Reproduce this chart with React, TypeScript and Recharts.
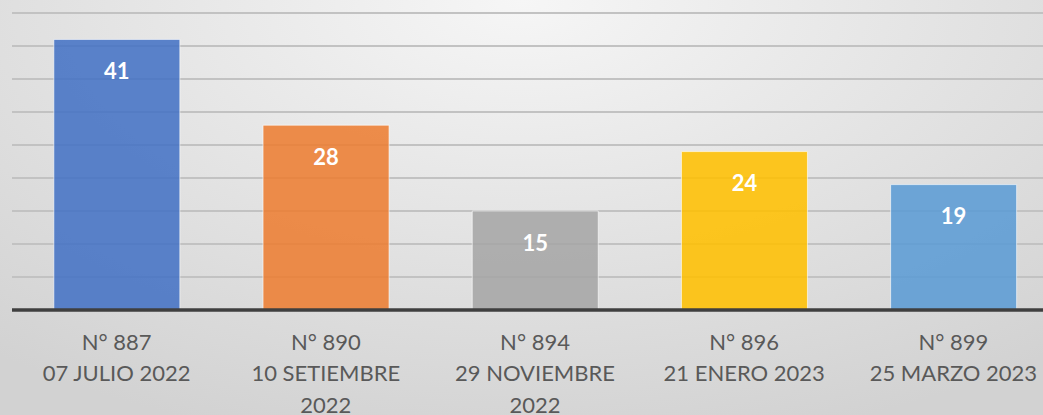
import React from "react";
import { BarChart, Bar, XAxis, YAxis, CartesianGrid, Cell, LabelList } from "recharts";

const categories = ["N° 887", "N° 890", "N° 894", "N° 896", "N° 899"];
const dateLines = [
  ["07 JULIO 2022"],
  ["10 SETIEMBRE", "2022"],
  ["29 NOVIEMBRE", "2022"],
  ["21 ENERO 2023"],
  ["25 MARZO 2023"],
];
const values = [41, 28, 15, 24, 19];
const colors = ["#4472C4", "#ED7D31", "#A5A5A5", "#FFC000", "#5B9BD5"];
const yTicks = [0, 5, 10, 15, 20, 25, 30, 35, 40, 45, 50];

const data = categories.map((c, i) => ({ name: c, value: values[i] }));

const FONT = "Lato, 'Open Sans', sans-serif";

const Tick = (props: any) => {
  const { x, y, payload } = props;
  const idx = payload.index ?? categories.indexOf(payload.value);
  const lines = [payload.value, ...(dateLines[idx] || [])];
  return (
    <g>
      {lines.map((l: string, i: number) => (
        <text
          key={i}
          x={x}
          y={y + 23 + i * 31.5}
          textAnchor="middle"
          dominantBaseline="central"
          fill="#595959"
          fontSize={22}
          fontFamily={FONT}
        >
          {l}
        </text>
      ))}
    </g>
  );
};

const ValueLabel = (props: any) => {
  const { x, y, width, value } = props;
  return (
    <text
      x={x + width / 2}
      y={y + 31}
      textAnchor="middle"
      dominantBaseline="central"
      fill="#ffffff"
      fontSize={22}
      fontWeight="bold"
      fontFamily={FONT}
    >
      {value}
    </text>
  );
};

export default function App() {
  return (
    <div
      style={{
        position: "absolute",
        top: 0,
        left: 0,
        width: 1043,
        height: 415,
        overflow: "hidden",
        background: "radial-gradient(ellipse 80% 110% at 50% 0%, #f6f6f6 0%, #e2e2e2 55%, #d2d2d2 100%)",
      }}
    >
      <div style={{ position: "absolute", top: -20, left: 0 }}>
        <BarChart
          width={1060}
          height={435}
          data={data}
          margin={{ top: 0, right: 2, left: 12, bottom: 0 }}
          barCategoryGap="20%"
        >
          <CartesianGrid horizontal vertical={false} stroke="#c2c2c2" strokeWidth={2} />
          <YAxis hide domain={[0, 50]} ticks={yTicks} />
          <XAxis
            dataKey="name"
            height={105}
            tickLine={false}
            axisLine={{ stroke: "#3f3f3f", strokeWidth: 3.5 }}
            tick={<Tick />}
            interval={0}
          />
          <Bar dataKey="value" isAnimationActive={false} stroke="#ffffff" strokeOpacity={0.6} strokeWidth={1}>
            {data.map((d, i) => (
              <Cell key={i} fill={colors[i]} fillOpacity={0.87} />
            ))}
            <LabelList dataKey="value" content={<ValueLabel />} />
          </Bar>
        </BarChart>
      </div>
    </div>
  );
}
